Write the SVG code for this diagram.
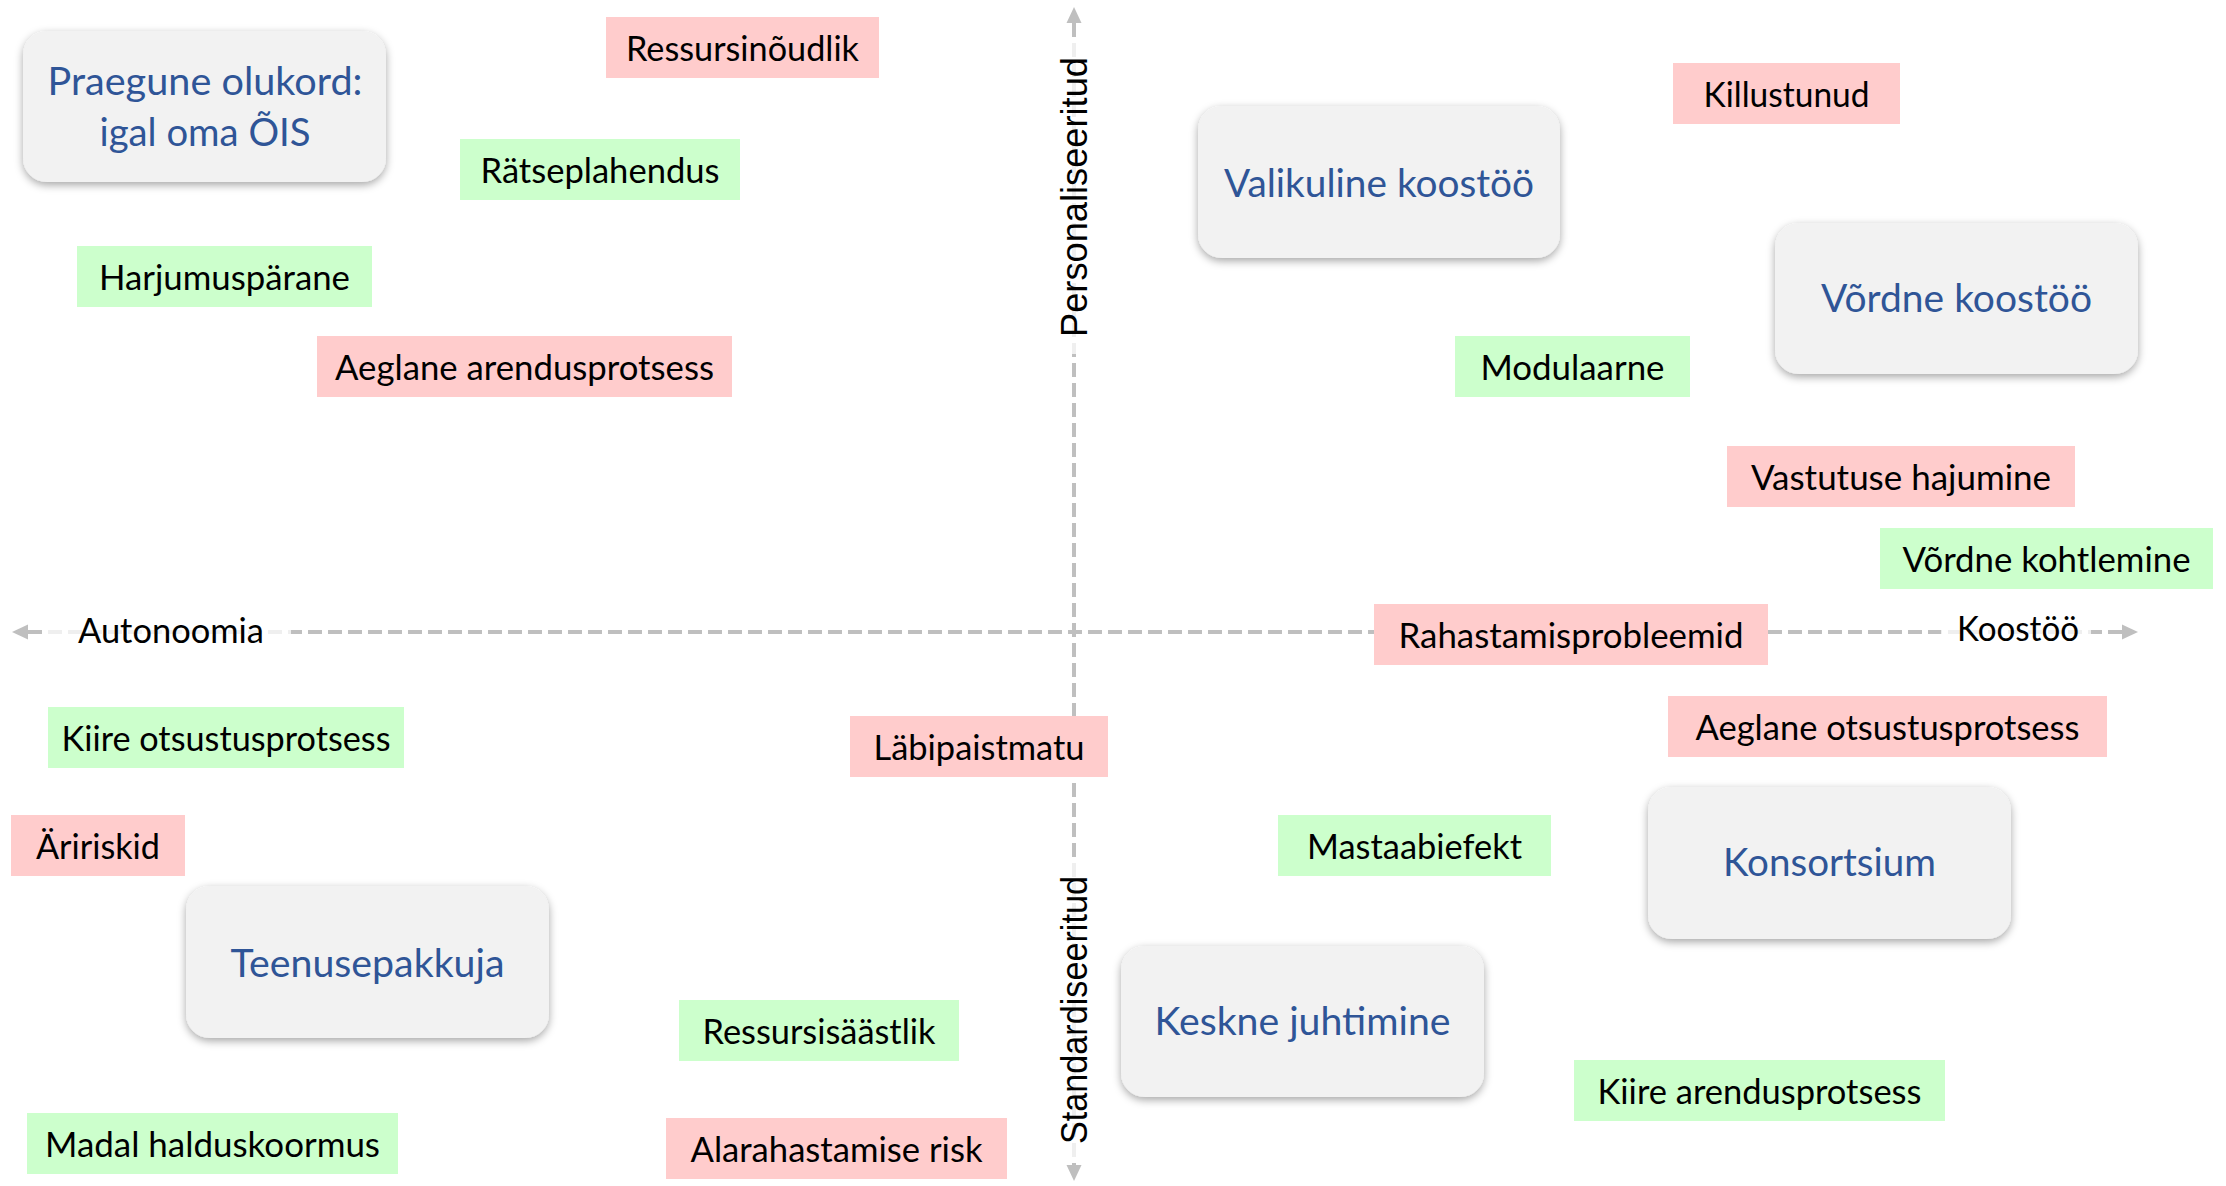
<svg xmlns="http://www.w3.org/2000/svg" width="2226" height="1186" viewBox="0 0 2226 1186">
  <style>
    .lbl { font-family: Lato, "Liberation Sans", sans-serif; font-size: 34px; fill: #000; text-anchor: middle; }
    .big { font-family: Lato, "Liberation Sans", sans-serif; font-size: 38px; fill: #2f5597; text-anchor: middle; }
    .ax { font-family: "Liberation Sans", Arial, sans-serif; font-size: 36px; fill: #000; text-anchor: middle; }
    .pink { fill: #ffcccc; }
    .green { fill: #ccffcc; }
    .node { fill: #f2f2f2; filter: url(#shadow); }
    .axis { stroke: #bfbfbf; stroke-width: 4; stroke-dasharray: 14 6; fill: none; }
    .veil { fill: #ffffff; fill-opacity: 0.75; }
  </style>
  <defs>
    <filter id="shadow" x="-10%" y="-15%" width="120%" height="135%">
      <feDropShadow dx="0" dy="3" stdDeviation="4" flood-color="#000" flood-opacity="0.35"/>
    </filter>
    <marker id="arr" markerUnits="userSpaceOnUse" markerWidth="17" markerHeight="16" refX="0" refY="8" orient="auto-start-reverse">
      <path d="M0,0.5 L16,8 L0,15.5 z" fill="#bfbfbf"/>
    </marker>
  </defs>
  <rect width="2226" height="1186" fill="#ffffff"/>

  <g id="connectors">
    <line class="axis" x1="28" y1="632" x2="2122" y2="632" marker-start="url(#arr)" marker-end="url(#arr)"/>
    <line class="axis" x1="1074" y1="23" x2="1074" y2="1165" marker-start="url(#arr)" marker-end="url(#arr)"/>
  </g>

  <g id="axis-labels">
    <g id="label-autonoomia">
      <rect class="veil" x="48" y="612" width="243" height="40"/>
      <text class="lbl" x="171" y="643" textLength="186" lengthAdjust="spacingAndGlyphs">Autonoomia</text>
    </g>
    <g id="label-koostoo">
      <rect class="veil" x="1941" y="612" width="150" height="40"/>
      <text class="lbl" x="2018" y="641" textLength="122" lengthAdjust="spacingAndGlyphs">Koostöö</text>
    </g>
    <g id="label-personaliseeritud">
      <rect class="veil" x="1055" y="40" width="40" height="314"/>
      <text class="ax" transform="translate(1087,197) rotate(-90)" x="0" y="0" textLength="280" lengthAdjust="spacingAndGlyphs">Personaliseeritud</text>
    </g>
    <g id="label-standardiseeritud">
      <rect class="veil" x="1055" y="860" width="40" height="300"/>
      <text class="ax" transform="translate(1087,1010) rotate(-90)" x="0" y="0" textLength="268" lengthAdjust="spacingAndGlyphs">Standardiseeritud</text>
    </g>
  </g>

  <g id="n-ressursinoudlik"><rect class="pink" x="606" y="17" width="273" height="61"/><text class="lbl" x="742.5" y="61" textLength="233" lengthAdjust="spacingAndGlyphs">Ressursinõudlik</text></g>
  <g id="n-ratseplahendus"><rect class="green" x="460" y="139" width="280" height="61"/><text class="lbl" x="600" y="183" textLength="239" lengthAdjust="spacingAndGlyphs">Rätseplahendus</text></g>
  <g id="n-harjumusparane"><rect class="green" x="77" y="246" width="295" height="61"/><text class="lbl" x="224.5" y="290" textLength="251" lengthAdjust="spacingAndGlyphs">Harjumuspärane</text></g>
  <g id="n-aeglane-arendus"><rect class="pink" x="317" y="336" width="415" height="61"/><text class="lbl" x="524.5" y="380" textLength="379" lengthAdjust="spacingAndGlyphs">Aeglane arendusprotsess</text></g>
  <g id="n-killustunud"><rect class="pink" x="1673" y="63" width="227" height="61"/><text class="lbl" x="1786.5" y="107" textLength="166" lengthAdjust="spacingAndGlyphs">Killustunud</text></g>
  <g id="n-modulaarne"><rect class="green" x="1455" y="336" width="235" height="61"/><text class="lbl" x="1572.5" y="380" textLength="184" lengthAdjust="spacingAndGlyphs">Modulaarne</text></g>
  <g id="n-vastutuse"><rect class="pink" x="1727" y="446" width="348" height="61"/><text class="lbl" x="1901" y="490" textLength="300" lengthAdjust="spacingAndGlyphs">Vastutuse hajumine</text></g>
  <g id="n-vordne-kohtlemine"><rect class="green" x="1880" y="528" width="333" height="61"/><text class="lbl" x="2046.5" y="572" textLength="288" lengthAdjust="spacingAndGlyphs">Võrdne kohtlemine</text></g>
  <g id="n-rahastamis"><rect class="pink" x="1374" y="604" width="394" height="61"/><text class="lbl" x="1571" y="648" textLength="345" lengthAdjust="spacingAndGlyphs">Rahastamisprobleemid</text></g>
  <g id="n-aeglane-otsustus"><rect class="pink" x="1668" y="696" width="439" height="61"/><text class="lbl" x="1887.5" y="740" textLength="384" lengthAdjust="spacingAndGlyphs">Aeglane otsustusprotsess</text></g>
  <g id="n-labipaistmatu"><rect class="pink" x="850" y="716" width="258" height="61"/><text class="lbl" x="979" y="760" textLength="211" lengthAdjust="spacingAndGlyphs">Läbipaistmatu</text></g>
  <g id="n-mastaabiefekt"><rect class="green" x="1278" y="815" width="273" height="61"/><text class="lbl" x="1414.5" y="859" textLength="215" lengthAdjust="spacingAndGlyphs">Mastaabiefekt</text></g>
  <g id="n-kiire-otsustus"><rect class="green" x="48" y="707" width="356" height="61"/><text class="lbl" x="226" y="751" textLength="329" lengthAdjust="spacingAndGlyphs">Kiire otsustusprotsess</text></g>
  <g id="n-aririskid"><rect class="pink" x="11" y="815" width="174" height="61"/><text class="lbl" x="98" y="859" textLength="124" lengthAdjust="spacingAndGlyphs">Äririskid</text></g>
  <g id="n-ressursisaastlik"><rect class="green" x="679" y="1000" width="280" height="61"/><text class="lbl" x="819" y="1044" textLength="233" lengthAdjust="spacingAndGlyphs">Ressursisäästlik</text></g>
  <g id="n-madal"><rect class="green" x="27" y="1113" width="371" height="61"/><text class="lbl" x="212.5" y="1157" textLength="335" lengthAdjust="spacingAndGlyphs">Madal halduskoormus</text></g>
  <g id="n-alarahastamise"><rect class="pink" x="666" y="1118" width="341" height="61"/><text class="lbl" x="836.5" y="1162" textLength="292" lengthAdjust="spacingAndGlyphs">Alarahastamise risk</text></g>
  <g id="n-kiire-arendus"><rect class="green" x="1574" y="1060" width="371" height="61"/><text class="lbl" x="1759.5" y="1104" textLength="324" lengthAdjust="spacingAndGlyphs">Kiire arendusprotsess</text></g>

  <g id="n-praegune"><rect class="node" x="23" y="31" width="363" height="151" rx="24"/><text class="big" x="205" y="95" textLength="315" lengthAdjust="spacingAndGlyphs">Praegune olukord:</text><text class="big" x="205" y="146" textLength="211" lengthAdjust="spacingAndGlyphs">igal oma ÕIS</text></g>
  <g id="n-valikuline"><rect class="node" x="1198" y="106" width="362" height="152" rx="24"/><text class="big" x="1379" y="197" textLength="310" lengthAdjust="spacingAndGlyphs">Valikuline koostöö</text></g>
  <g id="n-vordne-koostoo"><rect class="node" x="1775" y="223" width="363" height="151" rx="24"/><text class="big" x="1956.5" y="312" textLength="271" lengthAdjust="spacingAndGlyphs">Võrdne koostöö</text></g>
  <g id="n-konsortsium"><rect class="node" x="1648" y="787" width="363" height="152" rx="24"/><text class="big" x="1829.5" y="876" textLength="213" lengthAdjust="spacingAndGlyphs">Konsortsium</text></g>
  <g id="n-teenusepakkuja"><rect class="node" x="186" y="886" width="363" height="152" rx="24"/><text class="big" x="367.5" y="977" textLength="274" lengthAdjust="spacingAndGlyphs">Teenusepakkuja</text></g>
  <g id="n-keskne"><rect class="node" x="1121" y="946" width="363" height="151" rx="24"/><text class="big" x="1302.5" y="1035" textLength="296" lengthAdjust="spacingAndGlyphs">Keskne juhtimine</text></g>
</svg>
